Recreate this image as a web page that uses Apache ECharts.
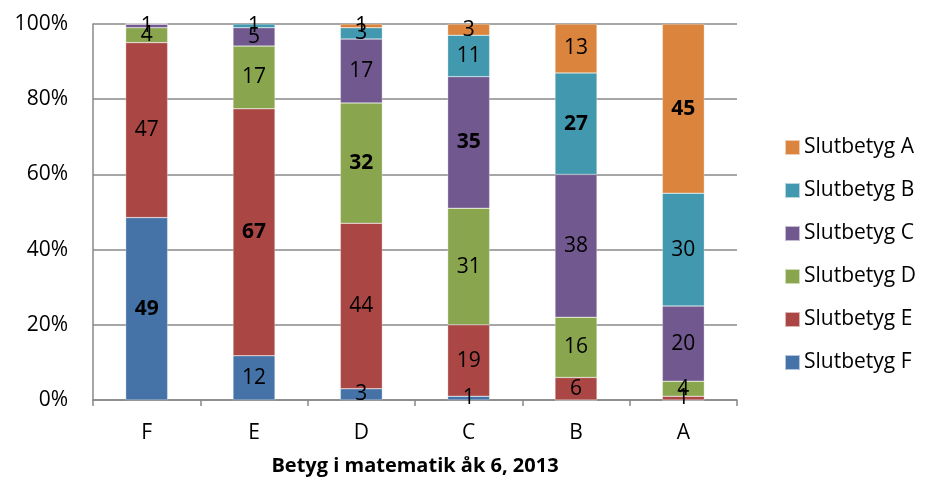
<!DOCTYPE html>
<html>
<head>
<meta charset="utf-8">
<script src="https://cdn.jsdelivr.net/npm/echarts@6/dist/echarts.min.js"></script>
<style>
  html, body { margin: 0; padding: 0; background: #fff; }
  #chart { width: 925px; height: 478px; }
</style>
</head>
<body>
<div id="chart"></div>
<script>
// betyg i åk 6 (kategorier) och slutbetyg (serier), värden i procent
const categories = ["F", "E", "D", "C", "B", "A"];
const seriesNames = ["Slutbetyg F", "Slutbetyg E", "Slutbetyg D", "Slutbetyg C", "Slutbetyg B", "Slutbetyg A"];
const slutF = [49, 12, 3, 1, 0, 0];
const slutE = [47, 67, 44, 19, 6, 1];
const slutD = [4, 17, 32, 31, 16, 4];
const slutC = [1, 5, 17, 35, 38, 20];
const slutB = [0, 1, 3, 11, 27, 30];
const slutA = [0, 0, 1, 3, 13, 45];
const yTicks = ["0%", "20%", "40%", "60%", "80%", "100%"];

const colors = ["#4572A7", "#AA4643", "#89A54E", "#71588F", "#4198AF", "#DB843D"];
const allSeries = [slutF, slutE, slutD, slutC, slutB, slutA];

// summa per kolumn, för 100%-stapling
const totals = categories.map((c, i) => allSeries.reduce((s, arr) => s + arr[i], 0));

const fontFam = "'Open Sans', sans-serif";

const series = allSeries.map((arr, si) => ({
  name: seriesNames[si],
  type: "bar",
  stack: "total",
  barWidth: 42,
  itemStyle: { color: colors[si], borderColor: "rgba(255,255,255,0.6)", borderWidth: 0.5 },
  label: {
    show: true,
    position: "inside",
    color: "#000",
    fontSize: 21,
    fontFamily: fontFam,
    formatter: (p) => (arr[p.dataIndex] === 0 ? "" : String(arr[p.dataIndex]))
  },
  data: arr.map((v, ci) => ({
    value: v / totals[ci] * 100,
    label: { fontWeight: si === ci ? "bold" : "normal" }
  }))
}));

const chart = echarts.init(document.getElementById("chart"));
chart.setOption({
  animation: false,
  backgroundColor: "#fff",
  color: colors,
  grid: { left: 93, right: 188, top: 24, bottom: 78, outerBoundsMode: "none", containLabel: false },
  legend: {
    orient: "vertical",
    left: 779,
    top: 132,
    itemWidth: 15,
    itemHeight: 15,
    itemGap: 22,
    icon: "rect",
    data: seriesNames.slice().reverse(),
    textStyle: { fontSize: 21, lineHeight: 21, fontFamily: fontFam, color: "#000", padding: [0, 0, 0, -1] }
  },
  xAxis: {
    type: "category",
    data: categories,
    name: "Betyg i matematik åk 6, 2013",
    nameLocation: "middle",
    nameGap: 56,
    nameTextStyle: { fontSize: 20, fontWeight: "bold", fontFamily: fontFam, color: "#000" },
    axisLine: { lineStyle: { color: "#888", width: 1.5 } },
    axisTick: { show: true, length: 6, lineStyle: { color: "#888", width: 1.5 } },
    axisLabel: { fontSize: 21, fontFamily: fontFam, color: "#000", margin: 23 }
  },
  yAxis: {
    type: "value",
    min: 0,
    max: 100,
    interval: 20,
    axisLine: { show: true, lineStyle: { color: "#888", width: 1.5 } },
    axisTick: { show: false },
    splitLine: { lineStyle: { color: "#888", width: 1.5 } },
    axisLabel: {
      fontSize: 21,
      fontFamily: fontFam,
      color: "#000",
      margin: 25,
      formatter: (v) => yTicks[Math.round(v / 20)]
    }
  },
  series: series
});
</script>
</body>
</html>
